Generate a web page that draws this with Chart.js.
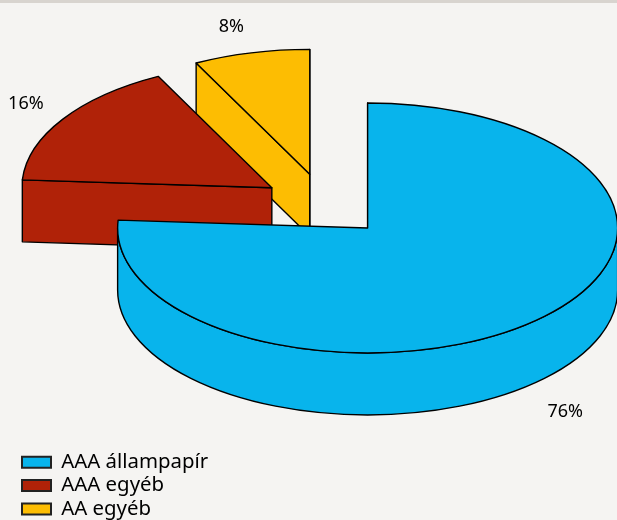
<!DOCTYPE html>
<html>
<head>
<meta charset="utf-8">
<style>
html,body{margin:0;padding:0;background:#f5f4f2;overflow:hidden}
#strip{position:absolute;left:0;top:0;width:617px;height:3px;background:#d8d4cf}
#wrap{position:absolute;left:0;top:0;width:617px;height:520px}
</style>
<script src="https://cdn.jsdelivr.net/npm/chart.js@4"></script>
</head>
<body>
<div id="strip"></div>
<div id="wrap"><canvas id="c" width="617" height="520"></canvas></div>
<script>
const categories = ['AAA állampapír', 'AAA egyéb', 'AA egyéb'];
const shares = [76, 16.49, 7.51];
const colors = ['#08b4ec', '#b02208', '#fdbd02'];

const TILT = 0.5, DEPTH = 62, RADIUS = 250, EXPLODE = 63;
const FONT = '"Noto Sans", sans-serif';
const labelNudge = [[-3, 15], [-1, -3], [-10, -5]];

function pie3d(ctx, a, color) {
  const offset = a.options.offset || 0;
  const s = a.startAngle, e = a.endAngle, mid = (s + e) / 2;
  const R = a.outerRadius, ry = R * TILT;
  const cx = a.x + Math.cos(mid) * offset;
  const cy = (a.y + Math.sin(mid) * offset) * TILT;
  const px = t => cx + Math.cos(t) * R;
  const py = t => cy + Math.sin(t) * ry;
  const paint = () => {
    ctx.fillStyle = color;
    ctx.strokeStyle = '#000';
    ctx.lineWidth = 1.4;
    ctx.lineJoin = 'round';
    ctx.fill();
    ctx.stroke();
  };
  const face = t => {
    ctx.beginPath();
    ctx.moveTo(cx, cy);
    ctx.lineTo(px(t), py(t));
    ctx.lineTo(px(t), py(t) + DEPTH);
    ctx.lineTo(cx, cy + DEPTH);
    ctx.closePath();
    paint();
  };
  if (Math.cos(s) < 1e-6) face(s);
  if (Math.cos(e) > -1e-6) face(e);
  const from = Math.max(s, 0), to = Math.min(e, Math.PI);
  if (to > from) {
    ctx.beginPath();
    ctx.ellipse(cx, cy, R, ry, 0, from, to);
    ctx.lineTo(px(to), py(to) + DEPTH);
    ctx.ellipse(cx, cy + DEPTH, R, ry, 0, to, from, true);
    ctx.closePath();
    paint();
  }
  ctx.beginPath();
  ctx.moveTo(cx, cy);
  ctx.ellipse(cx, cy, R, ry, 0, s, e);
  ctx.closePath();
  paint();
  return {cx, cy, mid, R, ry};
}

const projection = {
  id: 'projection',
  afterLayout(chart) {
    const l = chart.legend;
    l.left = 19; l.right = 260; l.top = 449; l.bottom = 600;
  },
  beforeDatasetsDraw(chart) {
    const ctx = chart.ctx, arcs = chart.getDatasetMeta(0).data;
    ctx.save();
    const geo = [];
    for (let i = arcs.length - 1; i >= 0; i--) geo[i] = pie3d(ctx, arcs[i], colors[i]);
    ctx.fillStyle = '#000';
    ctx.font = '18px ' + FONT;
    ctx.textAlign = 'center';
    ctx.textBaseline = 'middle';
    geo.forEach((g, i) => {
      const r = g.R + 43;
      const x = g.cx + Math.cos(g.mid) * r + labelNudge[i][0];
      const y = g.cy + Math.sin(g.mid) * r * TILT + (Math.sin(g.mid) > 0 ? DEPTH : 0) + labelNudge[i][1];
      ctx.fillText(Math.round(shares[i]) + '%', x, y);
    });
    ctx.restore();
    return false;
  }
};

new Chart(document.getElementById('c'), {
  type: 'pie',
  data: {
    labels: categories,
    datasets: [{
      data: shares,
      backgroundColor: colors,
      borderColor: '#000',
      borderWidth: 1,
      offset: EXPLODE,
      hoverOffset: 0
    }]
  },
  plugins: [projection],
  options: {
    responsive: false,
    animation: false,
    radius: RADIUS,
    layout: {padding: {left: 32, right: 0, top: 300, bottom: 0}},
    plugins: {
      tooltip: {enabled: false},
      legend: {
        position: 'chartArea',
        align: 'start',
        labels: {
          font: {family: FONT, size: 20.4},
          color: '#000',
          boxWidth: 29,
          boxHeight: 11,
          padding: 3,
          generateLabels(chart) {
            return Chart.overrides.pie.plugins.legend.labels.generateLabels(chart)
              .map(it => Object.assign(it, {lineWidth: 2, strokeStyle: '#222'}));
          }
        }
      }
    }
  }
});
</script>
</body>
</html>
